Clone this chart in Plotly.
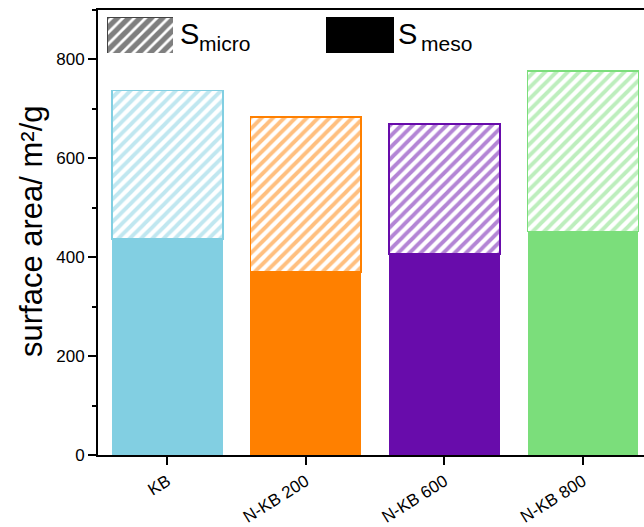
import plotly.graph_objects as go

categories = ["KB", "N-KB 200", "N-KB 600", "N-KB 800"]
s_meso = [437, 370, 407, 452]
s_micro = [300, 313, 263, 324]
colors = ["#82CFE2", "#FF8000", "#680CAB", "#7BDE7B"]
y_ticks = [0, 200, 400, 600, 800]
legend_swatch = [1]

FONT = "Arial, Liberation Sans, sans-serif"
W, H = 644, 527
L, R, T, B = 98, 0, 10, 72
PW, PH = W - L - R, H - T - B

def px_x(px):
    return (px - L) / PW

def px_y(py):
    return (H - B - py) / PH

fig = go.Figure()
fig.add_trace(go.Bar(
    x=categories, y=s_meso, width=0.8,
    marker=dict(color=colors, line=dict(width=0)),
    showlegend=False,
))
fig.add_trace(go.Bar(
    x=categories, y=s_micro, width=0.8,
    marker=dict(color="white",
                line=dict(color=colors, width=1.8),
                pattern=dict(shape="/", fgcolor=colors, bgcolor="white",
                             size=8, solidity=0.48)),
    showlegend=False,
))

# legend swatches drawn as bars on small inset axes
fig.add_trace(go.Bar(
    x=[0], y=legend_swatch, width=1, xaxis="x2", yaxis="y2",
    marker=dict(color="white", line=dict(color="#444444", width=1),
                pattern=dict(shape="/", fgcolor="black", bgcolor="white",
                             size=8, solidity=0.65)),
    showlegend=False, hoverinfo="skip",
))
fig.add_trace(go.Bar(
    x=[0], y=legend_swatch, width=1, xaxis="x3", yaxis="y3",
    marker=dict(color="black", line=dict(color="black", width=1)),
    showlegend=False, hoverinfo="skip",
))

inset = dict(range=[-0.5, 0.5], visible=False, fixedrange=True)
inset_y = dict(range=[0, 1], visible=False, fixedrange=True)

def txt(text, x, y, size):
    return dict(text=text, xref="paper", yref="paper", x=px_x(x), y=px_y(y),
                showarrow=False, xanchor="left", yanchor="middle",
                font=dict(size=size, family=FONT, color="black"))

fig.update_layout(
    width=W, height=H,
    margin=dict(l=L, r=R, t=T, b=B, pad=0, autoexpand=False),
    paper_bgcolor="white", plot_bgcolor="white",
    barmode="stack",
    font=dict(family=FONT, color="black", size=16),
    xaxis=dict(
        range=[-0.5, 3.44], showline=True, linecolor="black", linewidth=2,
        mirror=True, ticks="outside", ticklen=8, tickwidth=1.5,
        tickcolor="black", tickangle=-32, showgrid=False, zeroline=False,
        tickfont=dict(size=17, family=FONT), ticklabelstandoff=0,
        automargin=False,
    ),
    yaxis=dict(
        range=[0, 900], showline=True, linecolor="black", linewidth=2,
        ticks="outside", ticklen=8, tickwidth=1.5, tickcolor="black",
        tickvals=y_ticks, showgrid=False, zeroline=False,
        tickfont=dict(size=17, family=FONT), automargin=False,
        minor=dict(dtick=100, ticks="outside", ticklen=4, tickwidth=1.5,
                   tickcolor="black", showgrid=False),
    ),
    xaxis2=dict(domain=[px_x(107), px_x(173)], anchor="y2", **inset),
    yaxis2=dict(domain=[px_y(53), px_y(17)], anchor="x2", **inset_y),
    xaxis3=dict(domain=[px_x(326), px_x(394)], anchor="y3", **inset),
    yaxis3=dict(domain=[px_y(53), px_y(17)], anchor="x3", **inset_y),
    annotations=[
        dict(text="surface area/ m²/g", textangle=-90, xref="paper", yref="paper",
             x=px_x(31), y=px_y(231), showarrow=False, xanchor="center",
             yanchor="middle", font=dict(size=31, family=FONT)),
        txt("S", 178, 34, 29),
        txt("micro", 197, 43, 21),
        txt("S", 396, 34, 29),
        txt("meso", 419, 43, 21),
    ],
)

fig.write_html("out.html")
